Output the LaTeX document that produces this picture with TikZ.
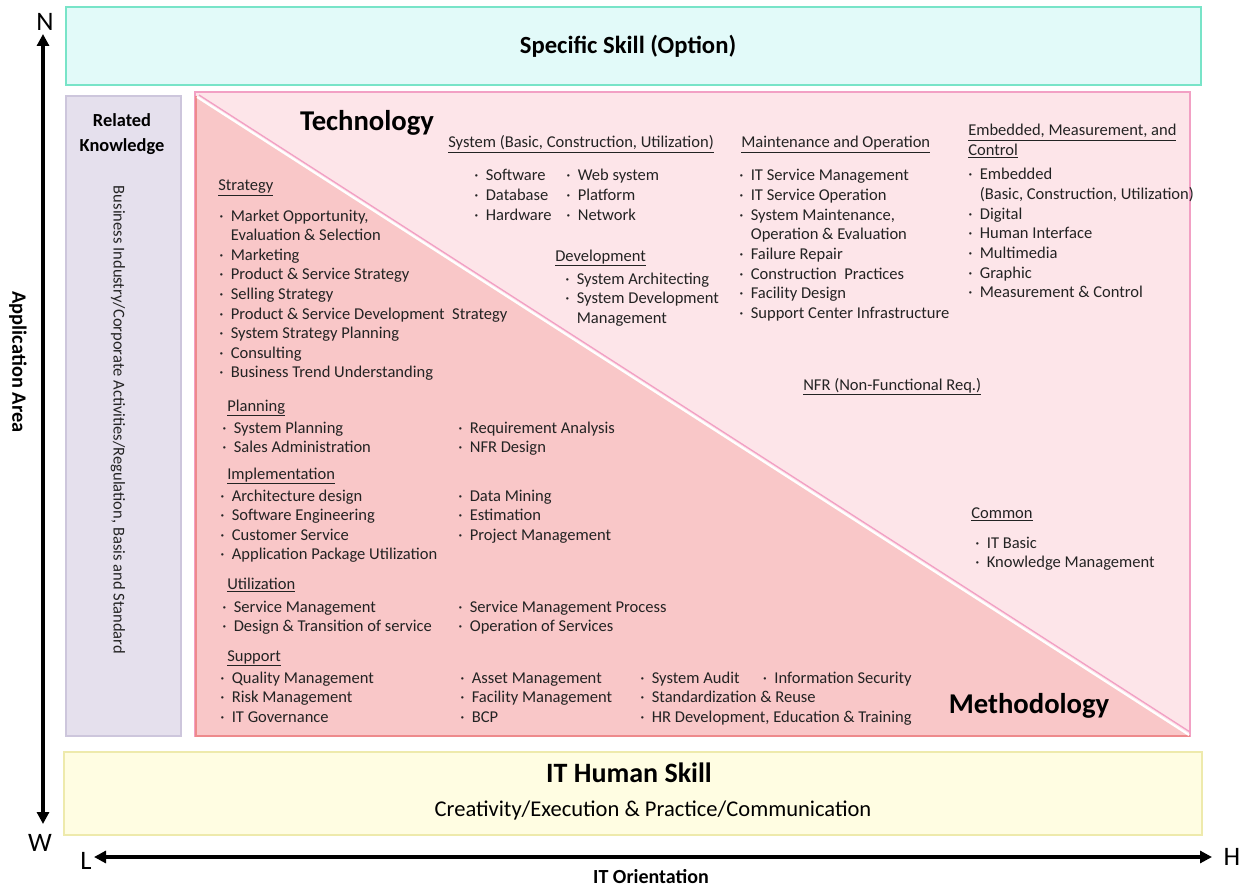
\documentclass[tikz,border=0pt]{standalone}
\usepackage{fontspec}
\setmainfont{Carlito}
\usetikzlibrary{arrows.meta}
\definecolor{topfill}{RGB}{226,250,249}
\definecolor{topline}{RGB}{120,228,200}
\definecolor{relfill}{RGB}{229,224,237}
\definecolor{relline}{RGB}{205,198,220}
\definecolor{techfill}{RGB}{253,229,233}
\definecolor{techline}{RGB}{242,160,196}
\definecolor{methfill}{RGB}{249,199,200}
\definecolor{methline}{RGB}{238,138,140}
\definecolor{yelfill}{RGB}{255,253,226}
\definecolor{yelline}{RGB}{238,234,172}
\definecolor{txtcol}{RGB}{35,35,35}
\newcommand\bu{\makebox[0.7em][l]{·}}
\newcommand\nb{\hphantom{\bu}}
\newcommand\mycol[4]{\foreach \t [count=\i] in {#4} {\node[txt] (#3\i) at (#1,{#2+(\i-1)*19.6}) {\t};}}
\begin{document}
\begin{tikzpicture}[x=0.75pt,y=-0.75pt,
  txt/.style={font=\fontsize{12.4}{14.7}\selectfont, text=txtcol, inner sep=0pt, anchor=base west},
  hdr/.style={txt},
  big/.style={font=\fontsize{21.5}{24}\selectfont\bfseries, inner sep=0pt},
  axl/.style={font=\fontsize{20}{22}\selectfont, inner sep=0pt},
  axis/.style={line width=3.2pt, {Triangle[length=9pt,width=9pt]}-{Triangle[length=9pt,width=9pt]}}]
\useasboundingbox[fill=white] (0,0) rectangle (1246,888);
% boxes
\draw[fill=topfill, draw=topline, line width=1.3pt] (66,7) rectangle (1201,85);
\draw[fill=relfill, draw=relline, line width=1.2pt] (66,96) rectangle (181,736);
\draw[fill=techfill, draw=techline, line width=1.2pt] (195,92) rectangle (1190,736);
\fill[methfill] (196,96) -- (196,736) -- (1190,736) -- cycle;
\draw[methline, line width=1.3pt] (196,96) -- (196,736) -- (1190,736);
\draw[white, line width=1.6pt] (197,97) -- (1189,735);
\draw[techline, line width=1.0pt] (199,95) -- (1190,732);
\draw[fill=yelfill, draw=yelline, line width=1.2pt] (64,752) rectangle (1202,835);
% titles
\node[font=\fontsize{18.5}{22}\selectfont\bfseries, inner sep=0pt] (spec) at (628,46) {Specific Skill (Option)};
\node[font=\fontsize{13.8}{18.75}\selectfont\bfseries, align=center, inner sep=0pt] (rel) at (122,134) {Related\\Knowledge};
\node[font=\fontsize{12.4}{14}\selectfont, text=txtcol, rotate=-90, inner sep=0pt] (relt) at (118,420) {Business Industry/Corporate Activities/Regulation, Basis and Standard};
\node[big] (tech) at (367,123) {Technology};
\node[big] (meth) at (1029,706) {Methodology};
\node[font=\fontsize{21}{24}\selectfont\bfseries, inner sep=0pt] (hum) at (629,773) {IT Human Skill};
\node[font=\fontsize{16.9}{19}\selectfont, inner sep=0pt] (humt) at (653,810) {Creativity/Execution \& Practice/Communication};
% axes
\coordinate (ntip) at (43,34);
\coordinate (wtip) at (43,824);
\coordinate (ltip) at (94,857);
\coordinate (htip) at (1212,857);
\draw[axis] (ntip) -- (wtip);
\draw[axis] (ltip) -- (htip);
\node[axl] (N) at (45,22) {N};
\node[axl] (W) at (40,843) {W};
\node[axl] (L) at (86,861) {L};
\node[axl] (H) at (1232,857) {H};
\node[font=\fontsize{15}{17}\selectfont\bfseries, inner sep=0pt] (ito) at (651,877) {IT Orientation};
\node[font=\fontsize{15.3}{17}\selectfont\bfseries, rotate=-90, inner sep=0pt] (app) at (18,362) {Application Area};
% Technology side
\node[hdr] (sysh) at (448,148) {\underline{System (Basic, Construction, Utilization)}};
\mycol{474}{181}{sa}{\bu Software, \bu Database, \bu Hardware}
\mycol{566}{181}{sb}{\bu Web system, \bu Platform, \bu Network}
\node[hdr] (devh) at (555,261) {\underline{Development}};
\mycol{565}{284}{dv}{\bu System Architecting, \bu System Development, \nb Management}
\node[hdr] (mnth) at (741,148) {\underline{Maintenance and Operation}};
\mycol{739}{181}{mn}{\bu IT Service Management, \bu IT Service Operation, {\bu System Maintenance,}, \nb Operation \& Evaluation, \bu Failure Repair, \bu Construction\ \ Practices, \bu Facility Design, \bu Support Center Infrastructure}
\node[hdr] (embh) at (968,136) {\underline{Embedded, Measurement, and}};
\node[hdr] (embh2) at (968,155.6) {\underline{Control}};
\mycol{968}{180}{em}{\bu Embedded, {\nb(Basic, Construction, Utilization)}, \bu Digital, \bu Human Interface, \bu Multimedia, \bu Graphic, \bu Measurement \& Control}
\node[hdr] (nfrh) at (803,390) {\underline{NFR (Non-Functional Req.)}};
\node[hdr] (comh) at (971,518) {\underline{Common}};
\mycol{975}{548}{cm}{\bu IT Basic, \bu Knowledge Management}
% Methodology side
\node[hdr] (strh) at (218,191) {\underline{Strategy}};
\mycol{219}{221}{st}{{\bu Market Opportunity,}, \nb Evaluation \& Selection, \bu Marketing, \bu Product \& Service Strategy, \bu Selling Strategy, \bu Product \& Service Development\ \ Strategy, \bu System Strategy Planning, \bu Consulting, \bu Business Trend Understanding}
\node[hdr] (plnh) at (227,411) {\underline{Planning}};
\mycol{222}{433}{pa}{\bu System Planning, \bu Sales Administration}
\mycol{458}{433}{pb}{\bu Requirement Analysis, \bu NFR Design}
\node[hdr] (imph) at (227,479) {\underline{Implementation}};
\mycol{220}{501}{ia}{\bu Architecture design, \bu Software Engineering, \bu Customer Service, \bu Application Package Utilization}
\mycol{458}{501}{ib}{\bu Data Mining, \bu Estimation, \bu Project Management}
\node[hdr] (utlh) at (227,589) {\underline{Utilization}};
\mycol{222}{612}{ua}{\bu Service Management, \bu Design \& Transition of service}
\mycol{458}{612}{ub}{\bu Service Management Process, \bu Operation of Services}
\node[hdr] (suph) at (227,661) {\underline{Support}};
\mycol{220}{683}{sp}{\bu Quality Management, \bu Risk Management, \bu IT Governance}
\mycol{460}{683}{sq}{\bu Asset Management, \bu Facility Management, \bu BCP}
\mycol{640}{683}{sr}{\bu System Audit\hspace{1.4em}\bu Information Security, \bu Standardization \& Reuse, {\bu HR Development, Education \& Training}}
\end{tikzpicture}
\end{document}
